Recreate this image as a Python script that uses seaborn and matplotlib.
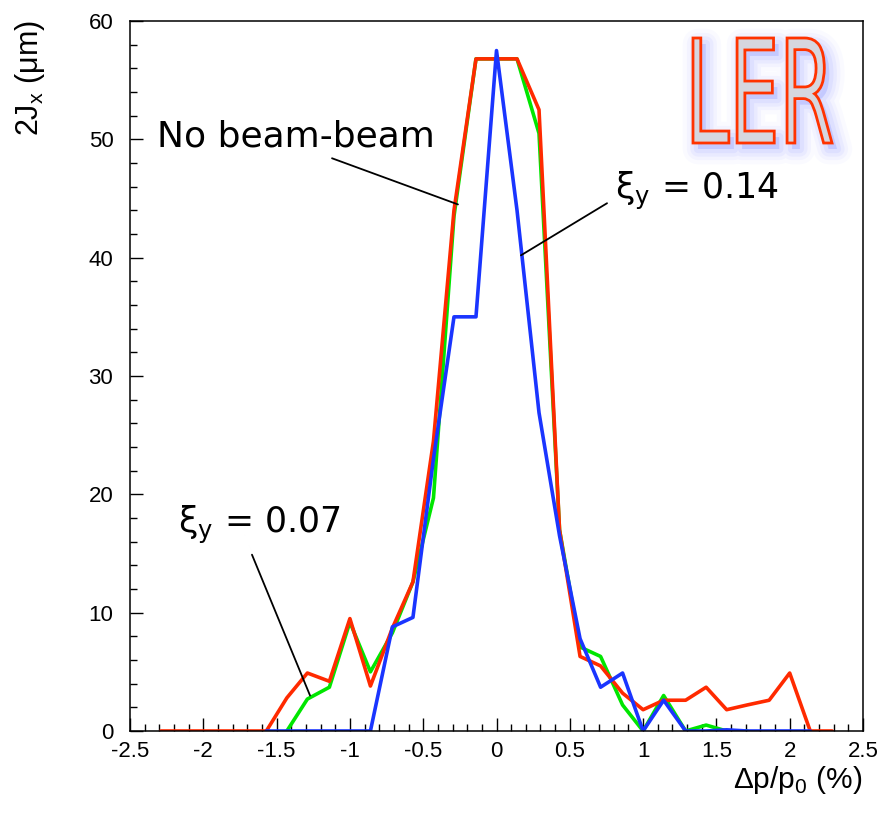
import numpy as np
import pandas as pd
import matplotlib
matplotlib.use("Agg")
import matplotlib.pyplot as plt
import matplotlib.transforms as mtransforms
from matplotlib.textpath import TextPath
from matplotlib.patches import PathPatch
from matplotlib.font_manager import FontProperties
from matplotlib.ticker import MultipleLocator, FixedLocator, FixedFormatter
import seaborn as sns

# ---- data: momentum deviation (%) and horizontal action 2Jx (um) ----
dp_nobb = [-2.29, -2.14, -2.0, -1.86, -1.71, -1.57, -1.43, -1.29, -1.14, -1.0,
           -0.86, -0.71, -0.57, -0.43, -0.29, -0.14, 0.0, 0.14, 0.29, 0.43,
           0.57, 0.71, 0.86, 1.0, 1.14, 1.29, 1.43, 1.57, 1.71, 1.86,
           2.0, 2.14, 2.29]
jx_nobb = [0, 0, 0, 0, 0, 0, 2.8, 4.9, 4.2, 9.5,
           3.8, 8.7, 12.6, 24.5, 44.0, 56.8, 56.8, 56.8, 52.5, 17.0,
           6.3, 5.5, 3.2, 1.8, 2.6, 2.6, 3.7, 1.8, 2.2, 2.6,
           4.9, 0, 0]

dp_xi007 = [-1.43, -1.29, -1.14, -1.0, -0.86, -0.71, -0.57, -0.43, -0.29, -0.14,
            0.0, 0.14, 0.29, 0.43, 0.57, 0.71, 0.86, 1.0, 1.14, 1.29,
            1.43, 1.57, 1.71]
jx_xi007 = [0, 2.7, 3.7, 9.2, 5.0, 8.3, 12.6, 19.7, 43.5, 56.8,
            56.8, 56.8, 50.5, 17.0, 7.1, 6.3, 2.2, 0, 3.0, 0,
            0.5, 0, 0]

dp_xi014 = [-1.57, -1.43, -1.29, -1.14, -1.0, -0.86, -0.71, -0.57, -0.43, -0.29,
            -0.14, 0.0, 0.14, 0.29, 0.43, 0.57, 0.71, 0.86, 1.0, 1.14,
            1.29, 1.43, 1.57, 1.71, 1.86, 2.0, 2.14]
jx_xi014 = [0, 0, 0, 0, 0, 0, 8.8, 9.6, 23.0, 35.0,
            35.0, 57.5, 44.0, 26.9, 16.5, 7.8, 3.7, 4.9, 0, 2.6,
            0, 0, 0.1, 0, 0, 0, 0]

series_names = ["ξy = 0.07", "No beam-beam", "ξy = 0.14"]
series_colors = ["#00e600", "#ff2a00", "#1a35ff"]

x_ticks = [-2.5, -2.0, -1.5, -1.0, -0.5, 0.0, 0.5, 1.0, 1.5, 2.0, 2.5]
x_tick_labels = ["-2.5", "-2", "-1.5", "-1", "-0.5", "0", "0.5", "1", "1.5", "2", "2.5"]
y_ticks = [0, 10, 20, 30, 40, 50, 60]
y_tick_labels = ["0", "10", "20", "30", "40", "50", "60"]

df = pd.concat([
    pd.DataFrame({"dp": dp_xi007, "jx": jx_xi007, "case": series_names[0]}),
    pd.DataFrame({"dp": dp_nobb, "jx": jx_nobb, "case": series_names[1]}),
    pd.DataFrame({"dp": dp_xi014, "jx": jx_xi014, "case": series_names[2]}),
], ignore_index=True)

# ---- style ----
sns.set_style("white")
plt.rcParams["font.family"] = ["Liberation Sans", "DejaVu Sans"]
plt.rcParams["mathtext.fontset"] = "dejavusans"
plt.rcParams["text.color"] = "black"
plt.rcParams["axes.labelcolor"] = "black"
plt.rcParams["xtick.color"] = "black"
plt.rcParams["ytick.color"] = "black"

W, H = 881, 818
fig = plt.figure(figsize=(W / 100, H / 100), dpi=100)
ax = fig.add_axes([130 / W, 1 - 731 / H, 733 / W, 710 / H])

sns.lineplot(data=df, x="dp", y="jx", hue="case", hue_order=series_names,
             palette=series_colors, estimator=None, sort=False, legend=False,
             linewidth=2.6, ax=ax)

ax.set_xlim(-2.5, 2.5)
ax.set_ylim(0, 60)
ax.set_xlabel("")
ax.set_ylabel("")

ax.xaxis.set_major_locator(FixedLocator(x_ticks))
ax.xaxis.set_major_formatter(FixedFormatter(x_tick_labels))
ax.yaxis.set_major_locator(FixedLocator(y_ticks))
ax.yaxis.set_major_formatter(FixedFormatter(y_tick_labels))
ax.xaxis.set_minor_locator(MultipleLocator(0.1))
ax.yaxis.set_minor_locator(MultipleLocator(2))
ax.tick_params(which="both", direction="in", color="black", width=1.0,
               top=False, right=False, bottom=True, left=True)
ax.tick_params(which="major", length=9.5, labelsize=16, labelcolor="black")
ax.tick_params(which="minor", length=5)
ax.tick_params(axis="x", which="major", pad=7)
ax.tick_params(axis="y", which="major", pad=12)
for sp in ax.spines.values():
    sp.set_color("black")
    sp.set_linewidth(1.1)

# axis titles
fig.text(30 / W, 1 - 20 / H, "2J$_\\mathregular{x}$ (μm)", rotation=90,
         ha="center", va="top", fontsize=22, color="black")
fig.text(862 / W, 1 - 788 / H, "Δp/p$_\\mathregular{0}$ (%)",
         ha="right", va="baseline", fontsize=21.5, color="black")

# case labels with pointer lines
label_font = ["DejaVu Sans"]
ax.text(-2.316, 49.4, "No beam-beam", fontsize=26, family=label_font,
        ha="left", va="baseline", color="black")
ax.text(0.808, 45.0, "ξ$_\\mathregular{y}$ = 0.14", fontsize=25,
        family=label_font, ha="left", va="baseline", color="black")
ax.text(-2.17, 16.7, "ξ$_\\mathregular{y}$ = 0.07", fontsize=25,
        family=label_font, ha="left", va="baseline", color="black")

pointer = dict(arrowstyle="-", color="black", lw=1.3, shrinkA=0, shrinkB=0)
ax.annotate("", xy=(-0.263, 44.5), xytext=(-1.122, 48.4), arrowprops=pointer)
ax.annotate("", xy=(0.167, 40.2), xytext=(0.754, 44.6), arrowprops=pointer)
ax.annotate("", xy=(-1.272, 3.0), xytext=(-1.668, 14.9), arrowprops=pointer)

# outlined "LER" badge with a soft blue glow
tp = TextPath((0, 0), "LER", size=100,
              prop=FontProperties(family=["Liberation Sans Narrow", "DejaVu Sans"]))
bb = tp.get_extents()
bx0, bx1, by_top, by_bot = 693, 832, 38, 143
to_fig = (mtransforms.Affine2D()
          .translate(-bb.x0, -bb.y0)
          .scale((bx1 - bx0) / bb.width, (by_bot - by_top) / bb.height)
          .translate(bx0, H - by_bot)
          .scale(1 / W, 1 / H))
ler_path = to_fig.transform_path(tp)
glow_shift = mtransforms.Affine2D().translate(5 / W, -6 / H)
glow_path = glow_shift.transform_path(ler_path)
for lw, a in [(22, 0.035), (16, 0.05), (11, 0.07), (6, 0.09)]:
    fig.add_artist(PathPatch(glow_path, transform=fig.transFigure,
                             facecolor=(0.45, 0.5, 1.0, a),
                             edgecolor=(0.45, 0.5, 1.0, a), lw=lw,
                             joinstyle="round"))
fig.add_artist(PathPatch(ler_path, transform=fig.transFigure,
                         facecolor="#d6d6de", edgecolor="#ff3300", lw=2.0,
                         joinstyle="miter"))

fig.savefig("out.png", dpi=100)
